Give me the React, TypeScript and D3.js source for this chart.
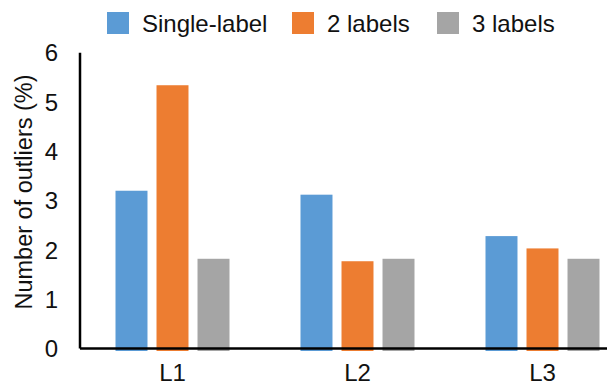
import React from "react";
import * as d3 from "d3";

const categories = ["L1", "L2", "L3"];
const seriesNames = ["Single-label", "2 labels", "3 labels"];
const singleLabel = [3.2, 3.12, 2.28];
const twoLabels = [5.34, 1.77, 2.03];
const threeLabels = [1.82, 1.82, 1.82];
const yTicks = [0, 1, 2, 3, 4, 5, 6];
const colors = ["#5B9BD5", "#ED7D31", "#A5A5A5"];

const W = 607;
const H = 391;
const FONT = "'Liberation Sans', Arial, sans-serif";

export default function App() {
  const seriesValues = [singleLabel, twoLabels, threeLabels];
  const y = d3.scaleLinear().domain([0, 6]).range([348.5, 52.7]);
  const x = d3.scaleBand<string>().domain(categories).range([80, 635]).paddingInner(0).paddingOuter(0);
  const inner = d3
    .scaleBand<string>()
    .domain(seriesNames)
    .range([-57, 57])
    .paddingInner(0.22)
    .paddingOuter(0);

  const legendX = [107, 292, 437];

  return (
    <svg
      width={W}
      height={H}
      style={{ position: "absolute", left: 0, top: 0, background: "#fff" }}
      fontFamily={FONT}
    >
      <rect x={0} y={0} width={W} height={H} fill="#fff" />
      {seriesNames.map((s, i) => (
        <g key={s}>
          <rect x={legendX[i]} y={12} width={22} height={22} fill={colors[i]} />
          <text x={legendX[i] + 35} y={32} fontSize={24} fill="#111">
            {s}
          </text>
        </g>
      ))}
      {categories.map((c, ci) => (
        <g key={c} transform={`translate(${(x(c) as number) + x.bandwidth() / 2},0)`}>
          {seriesNames.map((s, si) => {
            const v = seriesValues[si][ci];
            return (
              <rect
                key={s}
                x={inner(s) as number}
                y={y(v)}
                width={inner.bandwidth()}
                height={y(0) - y(v) + 2.5}
                fill={colors[si]}
              />
            );
          })}
        </g>
      ))}
      <line x1={80} x2={W} y1={y(0)} y2={y(0)} stroke="#000" strokeWidth={2.5} />
      <line x1={80} x2={80} y1={y(6)} y2={y(0)} stroke="#000" strokeWidth={2.5} />
      {yTicks.map((t) => (
        <text key={t} x={58} y={y(t)} dy="0.36em" textAnchor="end" fontSize={24} fill="#111">
          {t}
        </text>
      ))}
      {categories.map((c) => (
        <text
          key={c}
          x={(x(c) as number) + x.bandwidth() / 2}
          y={381}
          textAnchor="middle"
          fontSize={24}
          fill="#111"
        >
          {c}
        </text>
      ))}
      <text
        transform={`translate(32,192) rotate(-90)`}
        textAnchor="middle"
        fontSize={23.5}
        fill="#111"
      >
        Number of outliers (%)
      </text>
    </svg>
  );
}
